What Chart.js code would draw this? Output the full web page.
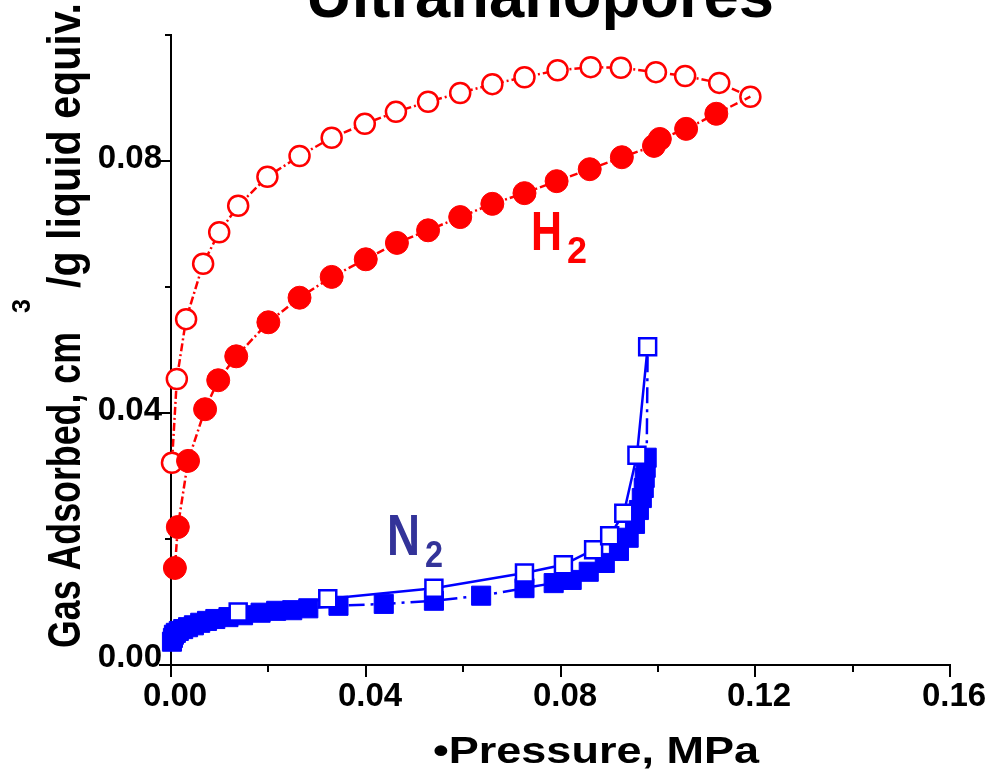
<!DOCTYPE html>
<html>
<head>
    <title>Ultrananopores</title>
    <meta charset="UTF-8">
    <script src="https://cdn.jsdelivr.net/npm/chart.js"></script>
    <style>
        body { margin: 0; background: #fff; }
        #chart { display: block; }
    </style>
</head>
<body>
    <canvas id="chart" width="997" height="771" style="width:997px;height:771px"></canvas>

    <script>
        // H2 adsorption (filled circles): pressure MPa, gas adsorbed
        const h2AdsP = [0.0008, 0.0014, 0.0035, 0.0070, 0.0097, 0.0134, 0.0200, 0.0264, 0.0330, 0.0400, 0.0464,
                        0.0528, 0.0594, 0.0660, 0.0726, 0.0792, 0.0860, 0.0926, 0.0992, 0.1004, 0.1058, 0.1120];
        const h2AdsV = [0.0154, 0.0219, 0.0324, 0.0406, 0.0452, 0.0490, 0.0544, 0.0583, 0.0616, 0.0644, 0.0670,
                        0.0690, 0.0711, 0.0732, 0.0749, 0.0768, 0.0787, 0.0806, 0.0824, 0.0835, 0.0851, 0.0875];

        // H2 desorption (open circles)
        const h2DesP = [0.0002, 0.0012, 0.0031, 0.0066, 0.0099, 0.0138, 0.0198, 0.0264, 0.0330, 0.0398, 0.0462,
                        0.0528, 0.0594, 0.0660, 0.0726, 0.0794, 0.0862, 0.0924, 0.0996, 0.1056, 0.1126, 0.1190];
        const h2DesV = [0.0321, 0.0454, 0.0549, 0.0637, 0.0687, 0.0729, 0.0775, 0.0808, 0.0837, 0.0859, 0.0878,
                        0.0894, 0.0908, 0.0922, 0.0933, 0.0944, 0.0949, 0.0948, 0.0941, 0.0935, 0.0924, 0.0902];

        // N2 adsorption (filled squares)
        const n2AdsP = [0.0002, 0.0004, 0.0006, 0.0010, 0.0016, 0.0025, 0.0035, 0.0047, 0.0060, 0.0074, 0.0091,
                        0.0118, 0.0148, 0.0184, 0.0216, 0.0249, 0.0282, 0.0344, 0.0437, 0.0540, 0.0637, 0.0726,
                        0.0786, 0.0823, 0.0858, 0.0891, 0.0920, 0.0940, 0.0953, 0.0961, 0.0967, 0.0971, 0.0973,
                        0.0975, 0.0977];
        const n2AdsV = [0.0037, 0.0043, 0.0048, 0.0051, 0.0054, 0.0057, 0.0060, 0.0063, 0.0067, 0.0070, 0.0073,
                        0.0076, 0.0079, 0.0083, 0.0086, 0.0087, 0.0090, 0.0094, 0.0097, 0.0102, 0.0110, 0.0122,
                        0.0130, 0.0135, 0.0148, 0.0162, 0.0181, 0.0202, 0.0224, 0.0246, 0.0265, 0.0281, 0.0297,
                        0.0313, 0.0329];

        // N2 desorption (open squares)
        const n2DesP = [0.0138, 0.0322, 0.0540, 0.0726, 0.0806, 0.0868, 0.0901, 0.0930, 0.0957, 0.0979];
        const n2DesV = [0.0084, 0.0105, 0.0122, 0.0146, 0.0159, 0.0183, 0.0205, 0.0241, 0.0333, 0.0505];

        // axis ticks
        const xTicks = [0, 0.02, 0.04, 0.06, 0.08, 0.10, 0.12, 0.14, 0.16];
        const xLabeled = [0, 0.04, 0.08, 0.12, 0.16];
        const yTicks = [0, 0.02, 0.04, 0.06, 0.08, 0.10];
        const yLabeled = [0, 0.04, 0.08];

        const RED = '#ff0000';
        const BLUE = '#0000ff';
        const N2_LABEL = '#333399';

        function pts(xs, ys) {
            return xs.map((x, i) => ({ x: x, y: ys[i] }));
        }

        // adsorption branch joins the desorption end point
        const h2AdsData = pts(h2AdsP, h2AdsV).concat([{ x: h2DesP[h2DesP.length - 1], y: h2DesV[h2DesV.length - 1] }]);
        const n2AdsData = pts(n2AdsP, n2AdsV).concat([{ x: n2DesP[n2DesP.length - 1], y: n2DesV[n2DesV.length - 1] }]);

        const FONT = '"Liberation Sans", Arial, sans-serif';

        // draws text squeezed/stretched horizontally to a given width
        function fitText(ctx, text, x, y, size, width, rotate) {
            ctx.font = 'bold ' + size + 'px ' + FONT;
            const w = ctx.measureText(text).width;
            ctx.save();
            ctx.translate(x, y);
            if (rotate) ctx.rotate(-Math.PI / 2);
            ctx.scale(width / w, 1);
            ctx.textAlign = 'left';
            ctx.textBaseline = 'alphabetic';
            ctx.fillText(text, 0, 0);
            ctx.restore();
        }

        const decorations = {
            id: 'decorations',
            afterDraw(chart) {
                const ctx = chart.ctx;
                const xs = chart.scales.x;
                const ys = chart.scales.y;
                const area = chart.chartArea;

                ctx.save();
                ctx.strokeStyle = '#000';
                ctx.lineWidth = 2;
                ctx.fillStyle = '#000';

                // x ticks + labels
                ctx.font = 'bold 33px ' + FONT;
                ctx.textAlign = 'center';
                ctx.textBaseline = 'alphabetic';
                xTicks.forEach(v => {
                    const px = Math.round(xs.getPixelForValue(v));
                    const major = xLabeled.some(m => Math.abs(m - v) < 1e-9);
                    ctx.beginPath();
                    ctx.moveTo(px, area.bottom);
                    ctx.lineTo(px, area.bottom + (major ? 12 : 7));
                    ctx.stroke();
                    if (major) ctx.fillText(v.toFixed(2), px + 4, area.bottom + 41);
                });

                // y ticks + labels
                ctx.textAlign = 'right';
                yTicks.forEach(v => {
                    const py = Math.round(ys.getPixelForValue(v));
                    const major = yLabeled.some(m => Math.abs(m - v) < 1e-9);
                    ctx.beginPath();
                    ctx.moveTo(area.left, py);
                    ctx.lineTo(area.left - (major ? 12 : 6), py);
                    ctx.stroke();
                    if (major) ctx.fillText(v.toFixed(2), area.left - 9, v === 0 ? py + 2 : py + 7);
                });

                // titles
                fitText(ctx, 'Ultrananopores', 306, 17, 64, 468, false);
                fitText(ctx, '\u2022Pressure, MPa', 433, 763, 37, 326, false);
                fitText(ctx, 'Gas Adsorbed, cm', 80, 648, 46, 316, true);
                fitText(ctx, '3', 30, 313, 25, 14, true);
                fitText(ctx, '/g liquid equiv.', 80, 288, 46, 285, true);

                // series labels
                ctx.fillStyle = RED;
                fitText(ctx, 'H', 531, 250, 56, 31, false);
                fitText(ctx, '2', 567, 263, 36, 20, false);
                ctx.fillStyle = N2_LABEL;
                fitText(ctx, 'N', 387, 555, 58, 33, false);
                fitText(ctx, '2', 425, 567, 36, 18, false);

                ctx.restore();
            }
        };

        const ctx = document.getElementById('chart').getContext('2d');
        new Chart(ctx, {
            type: 'scatter',
            data: {
                datasets: [
                    {
                        label: 'H2 adsorption',
                        data: h2AdsData,
                        showLine: true,
                        borderColor: RED,
                        borderWidth: 2.5,
                        borderDash: [8, 3, 2, 3],
                        backgroundColor: RED,
                        pointBackgroundColor: RED,
                        pointBorderColor: RED,
                        pointBorderWidth: 1,
                        pointRadius: h2AdsData.map((d, i) => i === h2AdsData.length - 1 ? 0 : 11.5),
                        pointStyle: 'circle',
                        clip: false
                    },
                    {
                        label: 'H2 desorption',
                        data: pts(h2DesP, h2DesV),
                        showLine: true,
                        borderColor: RED,
                        borderWidth: 2.5,
                        borderDash: [8, 3, 2, 3],
                        pointBackgroundColor: '#fff',
                        pointBorderColor: RED,
                        pointBorderWidth: 2.5,
                        pointRadius: 10,
                        pointStyle: 'circle',
                        clip: false
                    },
                    {
                        label: 'N2 desorption',
                        data: pts(n2DesP, n2DesV),
                        showLine: true,
                        borderColor: BLUE,
                        borderWidth: 2.5,
                        pointBackgroundColor: '#fff',
                        pointBorderColor: BLUE,
                        pointBorderWidth: 2.5,
                        pointRadius: 12,
                        pointStyle: 'rect',
                        clip: false
                    },
                    {
                        label: 'N2 adsorption',
                        data: n2AdsData,
                        showLine: true,
                        borderColor: BLUE,
                        borderWidth: 2.5,
                        borderDash: [16, 6, 3, 6],
                        pointBackgroundColor: BLUE,
                        pointBorderColor: BLUE,
                        pointBorderWidth: 1,
                        pointRadius: n2AdsData.map((d, i) => i === n2AdsData.length - 1 ? 0 : 13.5),
                        pointStyle: 'rect',
                        clip: false
                    }
                ]
            },
            options: {
                responsive: false,
                animation: false,
                devicePixelRatio: 1,
                layout: { padding: { left: 171, top: 35, right: 47, bottom: 106 } },
                plugins: {
                    legend: { display: false },
                    tooltip: { enabled: false }
                },
                scales: {
                    x: {
                        type: 'linear',
                        min: 0,
                        max: 0.16,
                        ticks: { display: false },
                        grid: { display: false, drawTicks: false },
                        border: { display: true, color: '#000', width: 2 }
                    },
                    y: {
                        type: 'linear',
                        min: 0,
                        max: 0.10,
                        ticks: { display: false },
                        grid: { display: false, drawTicks: false },
                        border: { display: true, color: '#000', width: 2 }
                    }
                }
            },
            plugins: [decorations]
        });
    </script>
</body>
</html>
